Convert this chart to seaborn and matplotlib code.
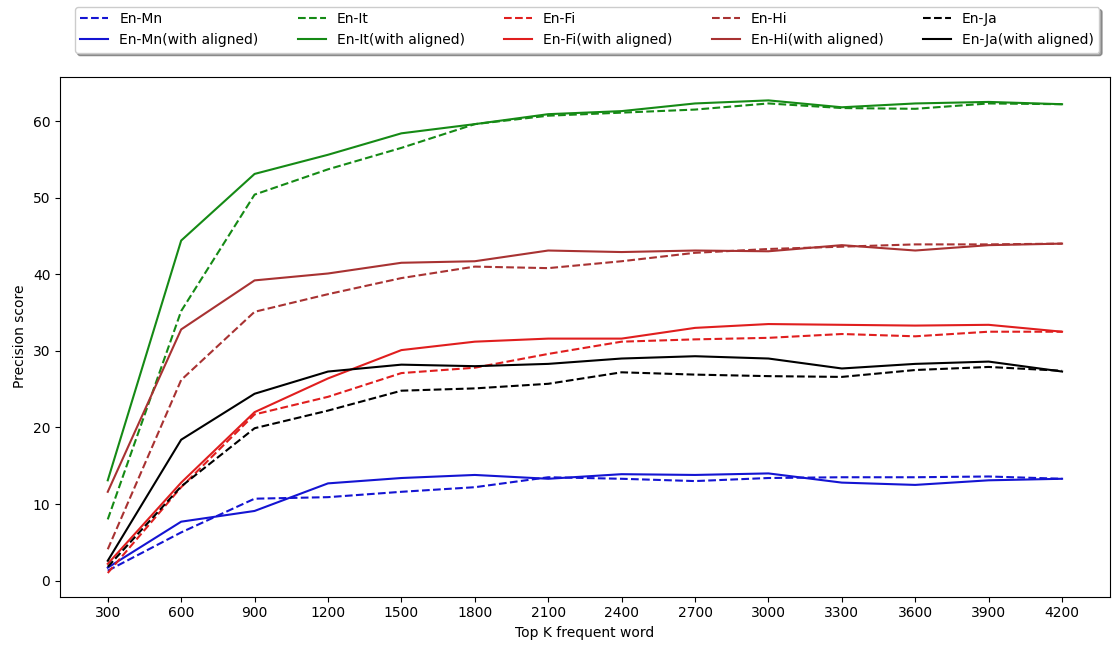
import matplotlib
matplotlib.use("Agg")
import matplotlib.pyplot as plt
import seaborn as sns
import pandas as pd

top_k = [300, 600, 900, 1200, 1500, 1800, 2100, 2400, 2700, 3000, 3300, 3600, 3900, 4200]

en_mn = [1.3, 6.3, 10.7, 10.9, 11.6, 12.2, 13.5, 13.3, 13.0, 13.4, 13.5, 13.5, 13.6, 13.3]
en_mn_al = [1.7, 7.7, 9.1, 12.7, 13.4, 13.8, 13.3, 13.9, 13.8, 14.0, 12.8, 12.5, 13.1, 13.3]
en_it = [8.0, 35.2, 50.4, 53.7, 56.5, 59.6, 60.7, 61.1, 61.5, 62.3, 61.7, 61.6, 62.3, 62.2]
en_it_al = [13.1, 44.4, 53.1, 55.6, 58.4, 59.6, 60.9, 61.3, 62.3, 62.7, 61.8, 62.3, 62.5, 62.2]
en_fi = [1.0, 12.2, 21.7, 24.0, 27.1, 27.8, 29.6, 31.2, 31.5, 31.7, 32.2, 31.9, 32.5, 32.5]
en_fi_al = [2.2, 12.8, 22.0, 26.4, 30.1, 31.2, 31.6, 31.6, 33.0, 33.5, 33.4, 33.3, 33.4, 32.5]
en_hi = [4.1, 26.2, 35.1, 37.4, 39.5, 41.0, 40.8, 41.7, 42.8, 43.3, 43.6, 43.9, 43.9, 44.0]
en_hi_al = [11.6, 32.8, 39.2, 40.1, 41.5, 41.7, 43.1, 42.9, 43.1, 43.0, 43.8, 43.1, 43.8, 44.0]
en_ja = [1.8, 12.3, 19.9, 22.2, 24.8, 25.1, 25.7, 27.2, 26.9, 26.7, 26.6, 27.5, 27.9, 27.4]
en_ja_al = [2.6, 18.4, 24.4, 27.3, 28.2, 28.0, 28.3, 29.0, 29.3, 29.0, 27.7, 28.3, 28.6, 27.3]

series = [
    ("En-Mn", en_mn, "#1414d2", "--"),
    ("En-Mn(with aligned)", en_mn_al, "#1414d2", "-"),
    ("En-It", en_it, "#158a15", "--"),
    ("En-It(with aligned)", en_it_al, "#158a15", "-"),
    ("En-Fi", en_fi, "#e01e1e", "--"),
    ("En-Fi(with aligned)", en_fi_al, "#e01e1e", "-"),
    ("En-Hi", en_hi, "#a83232", "--"),
    ("En-Hi(with aligned)", en_hi_al, "#a83232", "-"),
    ("En-Ja", en_ja, "black", "--"),
    ("En-Ja(with aligned)", en_ja_al, "black", "-"),
]

fig = plt.figure(figsize=(11.12, 6.45), dpi=100)
ax = fig.add_axes([0.054, 0.075, 0.944, 0.806])

for name, vals, color, ls in series:
    df = pd.DataFrame({"k": top_k, "v": vals})
    sns.lineplot(data=df, x="k", y="v", ax=ax, color=color, linestyle=ls,
                 linewidth=1.5, label=name)

ax.set_xticks(top_k)
ax.set_xticklabels([str(k) for k in top_k])
ax.set_xlabel("Top K frequent word", fontsize=10)
ax.set_ylabel("Precision score", fontsize=10)
ax.tick_params(labelsize=10)

handles, labels = ax.get_legend_handles_labels()
ax.legend(handles, labels, ncol=5, loc="lower left",
          bbox_to_anchor=(0.014, 1.046, 0.976, 0.1), mode="expand",
          shadow=True, fancybox=True, fontsize=10, borderaxespad=0.0)

fig.savefig("out.png", dpi=100)
